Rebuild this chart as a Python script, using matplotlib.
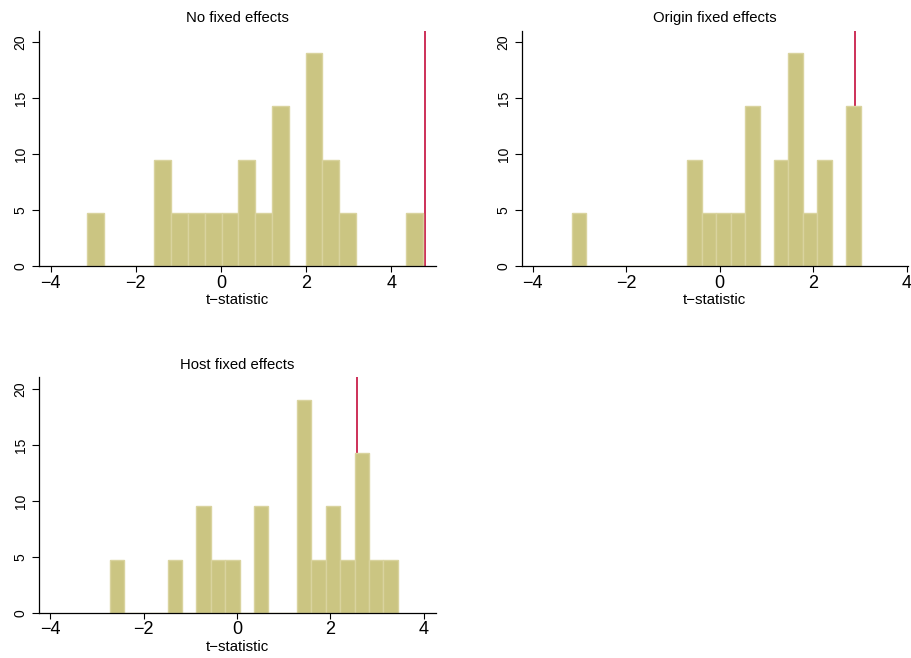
import matplotlib
matplotlib.use("Agg")
import matplotlib.pyplot as plt
import numpy as np

plt.rcParams['font.family'] = ['Liberation Sans', 'DejaVu Sans']

# number of observations behind each histogram (percent = count / n * 100)
n_obs = 21

titles = ["No fixed effects", "Origin fixed effects", "Host fixed effects"]

# bin range (min, max) and counts per bin, 20 bins each
ranges = [(-3.14, 4.745), (-3.17, 3.02), (-2.72, 3.445)]
counts = [
    [1, 0, 0, 0, 2, 1, 1, 1, 1, 2, 1, 3, 0, 4, 2, 1, 0, 0, 0, 1],
    [1, 0, 0, 0, 0, 0, 0, 0, 2, 1, 1, 1, 3, 0, 2, 4, 1, 2, 0, 3],
    [1, 0, 0, 0, 1, 0, 2, 1, 1, 0, 2, 0, 0, 4, 1, 2, 1, 3, 1, 1],
]
# actual t-statistic (red line)
actual_t = [4.78, 2.89, 2.58]

xlims = [(-4.28, 5.04), (-4.235, 4.03), (-4.25, 4.26)]
xticks = [-4, -2, 0, 2, 4]
yticks = [0, 5, 10, 15, 20]

# axes boxes in figure fraction
boxes = [
    [0.0425, 0.5953, 0.4358, 0.358],
    [0.5727, 0.5953, 0.4240, 0.358],
    [0.0425, 0.0684, 0.4358, 0.3582],
]

fill = '#CBC582'
edge = '#D9D39E'
red = '#C9204B'

fig = plt.figure(figsize=(9.11, 6.58), dpi=100)

for i in range(3):
    ax = fig.add_axes(boxes[i])
    lo, hi = ranges[i]
    c = np.array(counts[i])
    edges = np.linspace(lo, hi, len(c) + 1)
    pct = c / n_obs * 100
    ax.axvline(actual_t[i], color=red, lw=1.3, zorder=1)
    ax.bar(edges[:-1], pct, width=np.diff(edges), align='edge',
           color=fill, edgecolor=edge, linewidth=1.0, zorder=2)

    ax.set_xlim(*xlims[i])
    ax.set_ylim(0, 21.04)
    ax.set_xticks(xticks)
    ax.set_xticklabels(['\u22124', '\u22122', '0', '2', '4'])
    ax.set_yticks(yticks)
    ax.set_yticklabels([str(t) for t in yticks], rotation=90, va='center')
    ax.tick_params(axis='x', labelsize=13, length=4, width=0.8, pad=2)
    ax.tick_params(axis='y', labelsize=10, length=5, width=0.8, pad=3)
    for s in ['top', 'right']:
        ax.spines[s].set_visible(False)
    for s in ['left', 'bottom']:
        ax.spines[s].set_linewidth(0.9)
    ax.set_title(titles[i], fontsize=10.7, pad=6)
    ax.set_xlabel('t\u2212statistic', fontsize=10.8, labelpad=1)

fig.savefig('out.png', dpi=100)
